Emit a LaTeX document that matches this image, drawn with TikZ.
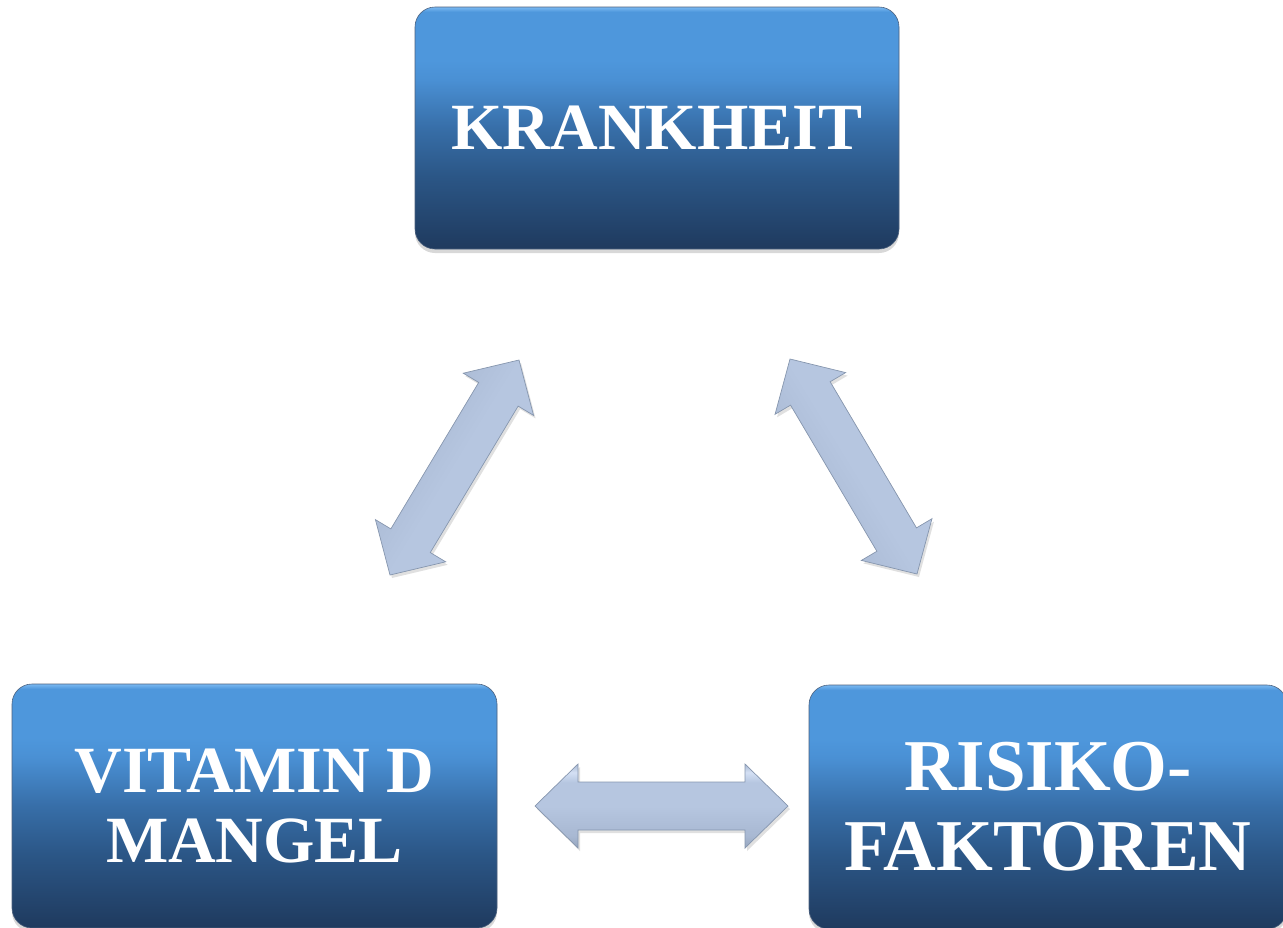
\documentclass[tikz,border=0pt]{standalone}
\usepackage{fontspec}
\setmainfont{Liberation Serif}
\usetikzlibrary{shadows,calc}
\definecolor{bxA}{HTML}{1F3A5E}
\definecolor{bxB}{HTML}{2B5686}
\definecolor{bxC}{HTML}{376EA8}
\definecolor{bxC2}{HTML}{4A90D4}
\definecolor{bxD}{HTML}{4E97DC}
\definecolor{bxE}{HTML}{7AB9F2}
\definecolor{arA}{HTML}{95A5BD}
\definecolor{arB}{HTML}{A8B8D2}
\definecolor{arC}{HTML}{B6C6E0}
\definecolor{arD}{HTML}{D4E0F4}
\definecolor{arLine}{HTML}{8696AE}
\pgfdeclareverticalshading{boxshade}{100bp}{color(0bp)=(bxA); color(25bp)=(bxA); color(40bp)=(bxB); color(50bp)=(bxC); color(60bp)=(bxC2); color(64bp)=(bxD); color(74bp)=(bxD); color(75bp)=(bxE); color(100bp)=(bxE)}
\pgfdeclareverticalshading{arrshade}{100bp}{color(0bp)=(arA); color(25bp)=(arA); color(32bp)=(arB); color(50bp)=(arC); color(64bp)=(arC); color(70bp)=(arD); color(75bp)=(arB); color(100bp)=(arB)}
\tikzset{
  box/.style={rectangle, rounded corners=20pt, shading=boxshade, draw=bxA!80, line width=0.6pt,
    inner sep=0pt, align=center, text=white,
    drop shadow={shadow xshift=0pt, shadow yshift=-4pt, opacity=0.22, fill=black!70}},
  arrowbody/.style={shading=arrshade, draw=arLine, line width=0.7pt, line join=miter,
    drop shadow={shadow xshift=2pt, shadow yshift=-3pt, opacity=0.2, fill=black!60}},
}
\newcommand\dblarrow[6]{%
  \path[arrowbody, shading angle=#6] (#1)
   -- ($(#1)!#3!(#2)!#4!90:(#2)$) -- ($(#1)!#3!(#2)!#5!90:(#2)$)
   -- ($(#2)!#3!(#1)!#5!-90:(#1)$) -- ($(#2)!#3!(#1)!#4!-90:(#1)$)
   -- (#2)
   -- ($(#2)!#3!(#1)!#4!90:(#1)$) -- ($(#2)!#3!(#1)!#5!90:(#1)$)
   -- ($(#1)!#3!(#2)!#5!-90:(#2)$) -- ($(#1)!#3!(#2)!#4!-90:(#2)$) -- cycle;}
\begin{document}
\begin{tikzpicture}[x=1pt,y=-1pt]
\useasboundingbox (0,0) rectangle (1283,927);
\node[box, minimum width=484pt, minimum height=242pt, font=\bfseries\fontsize{66}{70}\selectfont]
  (kr) at (657,128) {KRANKHEIT};
\node[box, minimum width=485pt, minimum height=244pt, font=\bfseries\fontsize{66}{70}\selectfont]
  (vd) at (254.5,806) {VITAMIN D\\MANGEL};
\node[box, minimum width=478pt, minimum height=244pt, font=\bfseries\fontsize{73}{80}\selectfont]
  (rf) at (1048,807) {RISIKO-\\FAKTOREN};
% arrow end points
\coordinate (l1) at (390,575);
\coordinate (l2) at (519,360);
\coordinate (r1) at (790,359);
\coordinate (r2) at (917,574);
\coordinate (h1) at (535,806);
\coordinate (h2) at (788,806);
\dblarrow{l1}{l2}{40pt}{41pt}{23pt}{238.6}
\dblarrow{r1}{r2}{40pt}{41pt}{23pt}{-58.6}
\dblarrow{h1}{h2}{43pt}{42pt}{24pt}{0}
\end{tikzpicture}
\end{document}
